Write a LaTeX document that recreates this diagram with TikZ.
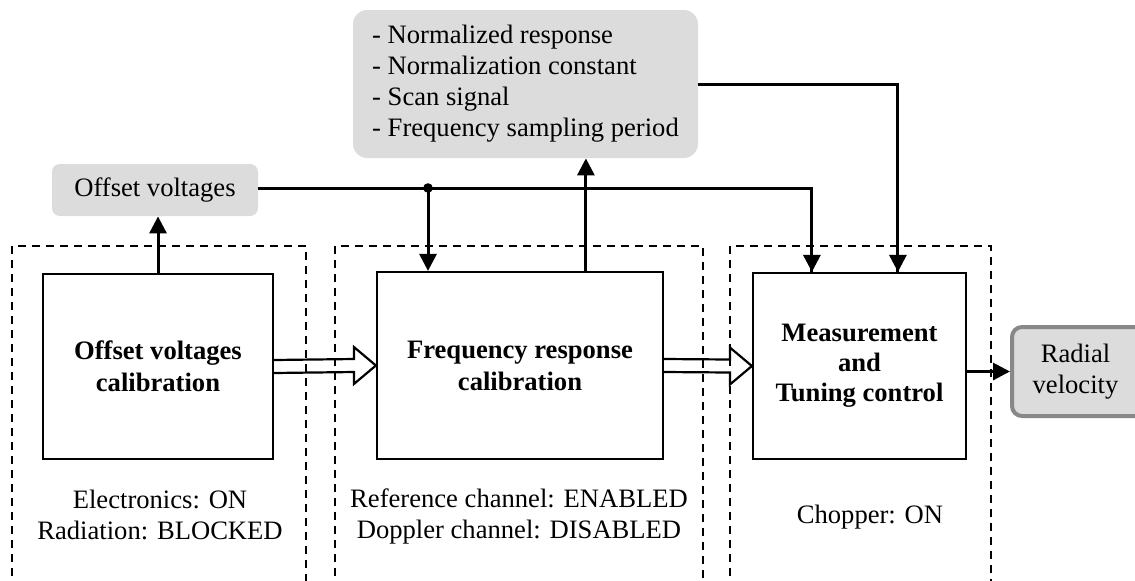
\documentclass[tikz,border=0pt]{standalone}
\usepackage{fontspec}
\setmainfont{Liberation Serif}
\usetikzlibrary{arrows.meta,calc}
\definecolor{infogray}{HTML}{DCDCDC}
\definecolor{rimgray}{HTML}{888888}
\begin{document}
\begin{tikzpicture}[x=0.5pt, y=-0.5pt,
    every node/.style={font=\fontsize{13.3}{15.5}\selectfont},
    block/.style={draw, line width=1.1pt, align=center, font=\fontsize{13.3}{16}\selectfont\bfseries},
    info/.style={fill=infogray, rounded corners=7pt, align=left},
    frame/.style={line width=1pt, dash pattern=on 4pt off 3pt},
    link/.style={line width=1.5pt},
    arr/.style={link, -{Triangle[length=8.5pt, width=8.5pt]}},
    hollow/.style={line width=1.1pt}]
    \useasboundingbox (0,0) rectangle (1135,580);
    \clip (0,0) rectangle (1135,580);

    \draw[frame] (12,590) -- (12,246) -- (306,246) -- (306,590);
    \draw[frame] (335,590) -- (335,246) -- (703,246) -- (703,590);
    \draw[frame] (730,590) -- (730,246) -- (991,246) -- (991,590);

    \node[info, rounded corners=4pt, minimum width=103pt, minimum height=26pt] (offv) at (155,190) {Offset voltages};
    \node[info, minimum width=172.5pt, minimum height=74pt] (params) at (525.5,84) {- Normalized response\\- Normalization constant\\- Scan signal\\- Frequency sampling period};

    \node[block, minimum width=115pt, minimum height=92.5pt] (calib) at (158,366.5) {Offset voltages\\calibration};
    \node[block, minimum width=143pt, minimum height=93.5pt] (freq) at (520,365.5) {Frequency response\\calibration};
    \node[block, minimum width=106.5pt, minimum height=93pt, font=\fontsize{13.3}{15}\selectfont\bfseries] (meas) at (859.5,366) {Measurement\\and\\Tuning control};
    \node[draw=rimgray, fill=infogray, line width=2pt, rounded corners=5pt, align=center, minimum width=66.5pt, minimum height=44.5pt, text width=60pt, inner xsep=0pt] (radial) at (1078.5,371.5) {\hspace*{-3pt}Radial\\\hspace*{-3pt}velocity};

    \node[align=center] (cond1) at (160,515) {Electronics: ON\\Radiation: BLOCKED};
    \node[align=center] (cond2) at (519,516) {Reference channel: ENABLED\\Doppler channel: DISABLED};
    \node[align=center] (cond3) at (870,517) {Chopper: ON};

    \coordinate (j) at (428,188);
    \coordinate (f1) at ($(freq.north west)+(51,0)$);
    \coordinate (f2) at ($(freq.north west)+(210,0)$);
    \coordinate (m1) at ($(meas.north west)+(60,0)$);
    \coordinate (m2) at ($(meas.north west)+(146,0)$);

    \draw[arr] (calib.north) -- (calib.north |- offv.south);
    \draw[link] (offv.east |- j) -| (m1);
    \draw[arr] (m1 |- j) -- (m1);
    \draw[arr] (j) -- (j |- f1);
    \fill (j) circle (2.4pt);
    \draw[arr] (f2) -- (f2 |- params.south);
    \draw[link] (params.east |- 0,84) -| (m2);
    \draw[arr] (m2 |- 0,84) -- (m2);
    \draw[arr] (meas.east |- radial.west) -- (radial.west);

    \draw[hollow] ($(calib.east)+(0,-6.5)$) -- ($(freq.west)+(-22,-6.5)$) -- ($(freq.west)+(-22,-18.5)$) -- (freq.west)
        -- ($(freq.west)+(-22,18.5)$) -- ($(freq.west)+(-22,6.5)$) -- ($(calib.east)+(0,6.5)$);
    \draw[hollow] ($(freq.east)+(0,-6.5)$) -- ($(meas.west)+(-22,-6.5)$) -- ($(meas.west)+(-22,-18.5)$) -- (meas.west)
        -- ($(meas.west)+(-22,18.5)$) -- ($(meas.west)+(-22,6.5)$) -- ($(freq.east)+(0,6.5)$);
\end{tikzpicture}
\end{document}
